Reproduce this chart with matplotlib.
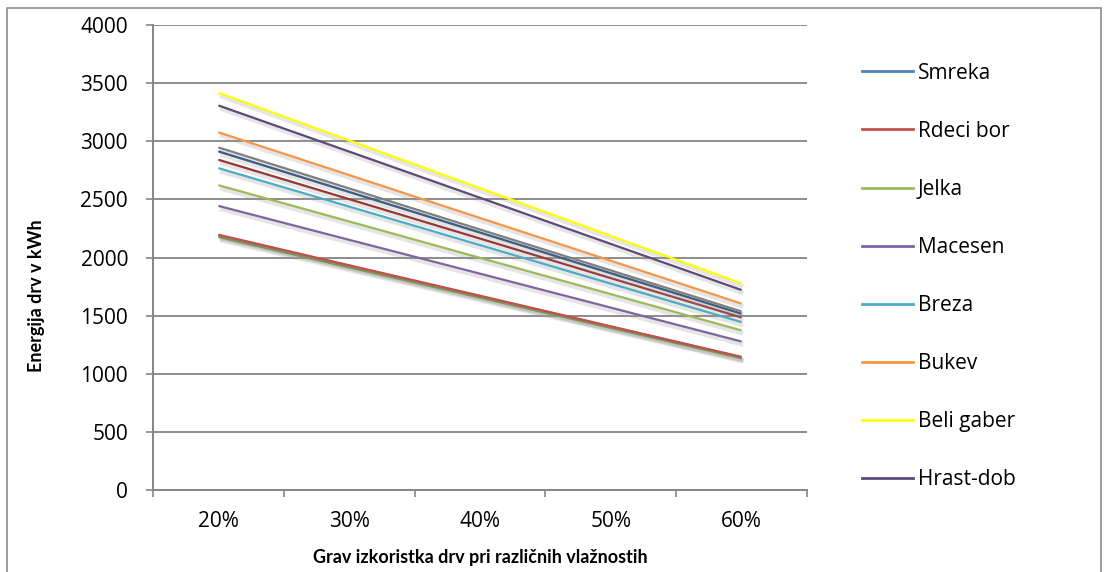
import matplotlib
matplotlib.use("Agg")
import matplotlib.pyplot as plt
import matplotlib.patheffects as pe
from matplotlib.patches import Rectangle

# ---------------------------------------------------------------- data
categories = ["20%", "30%", "40%", "50%", "60%"]

smreka = [2190, 1928, 1666, 1404, 1141]
rdeci_bor = [2196, 1933, 1671, 1408, 1145]
jelka = [2622, 2310, 1997, 1685, 1372]
macesen = [2444, 2152, 1861, 1569, 1277]
breza = [2769, 2438, 2107, 1775, 1444]
bukev = [3077, 2709, 2340, 1972, 1603]
beli_gaber = [3417, 3007, 2596, 2186, 1776]
hrast_dob = [3308, 2911, 2514, 2117, 1720]
# series drawn but cut off from the legend in the original
extra_grey = [2947, 2594, 2241, 1889, 1536]
extra_navy = [2913, 2564, 2215, 1865, 1516]
extra_darkred = [2841, 2502, 2163, 1823, 1484]
extra_olive = [2176, 1915, 1655, 1394, 1133]

series = [
    ("Smreka", smreka, "#4F81BD"),
    ("Rdeci bor", rdeci_bor, "#C0504D"),
    ("Jelka", jelka, "#9BBB59"),
    ("Macesen", macesen, "#8064A2"),
    ("Breza", breza, "#4BACC6"),
    ("Bukev", bukev, "#F79646"),
    ("Beli gaber", beli_gaber, "#FFFF00"),
    ("Hrast-dob", hrast_dob, "#5F497A"),
    (None, extra_grey, "#7F7F7F"),
    (None, extra_navy, "#1F497D"),
    (None, extra_darkred, "#953735"),
    (None, extra_olive, "#77933C"),
]
# draw order so the overlaps look like the original
order = [0, 11, 1, 3, 2, 4, 10, 9, 8, 5, 7, 6]

plt.rcParams["font.family"] = ["Open Sans", "DejaVu Sans"]
FS = 15

fig = plt.figure(figsize=(11.09, 5.72), dpi=100)
ax = fig.add_axes([153 / 1109, 1 - 490 / 572, 654 / 1109, 465 / 572])

x = list(range(len(categories)))
shadow = [pe.SimpleLineShadow(offset=(1.2, -2.2), shadow_color="#9a9a9a",
                              alpha=0.25, linewidth=3.2), pe.Normal()]
for i in order:
    name, vals, col = series[i]
    ax.plot(x, vals, color=col, lw=1.6, path_effects=shadow,
            solid_capstyle="butt")

ax.set_xlim(-0.5, len(categories) - 0.5)
ax.set_ylim(0, 4000)
ax.set_yticks(range(0, 4001, 500))
ax.set_xticks(x)
ax.set_xticklabels(categories)
ax.set_xticks([v - 0.5 for v in range(len(categories) + 1)], minor=True)
ax.tick_params(axis="x", which="major", length=0, pad=15, labelsize=FS)
ax.tick_params(axis="x", which="minor", length=5, color="#868686", width=1.2)
ax.tick_params(axis="y", length=5, color="#868686", width=1.2, pad=13,
               labelsize=FS)
ax.grid(axis="y", color="#8c8c8c", lw=1.4)
ax.set_axisbelow(True)
for sp in ("top", "right"):
    ax.spines[sp].set_visible(False)
for sp in ("left", "bottom"):
    ax.spines[sp].set_color("#868686")
    ax.spines[sp].set_linewidth(1.4)

ax.set_ylabel("Energija drv v kWh", fontsize=13, fontweight="bold",
              family=["Lato", "DejaVu Sans"], va="center")
ax.set_xlabel("Grav izkoristka drv pri različnih vlažnostih", fontsize=13,
              fontweight="bold", family=["Lato", "DejaVu Sans"], va="center")
ax.yaxis.set_label_coords((37 - 153) / 654, (490 - 296) / 465)
ax.xaxis.set_label_coords((480 - 153) / 654, (490 - 558) / 465)

leg_h = [plt.Line2D([], [], color=series[i][2], lw=2.0) for i in range(8)]
leg_l = [series[i][0] for i in range(8)]
ax.legend(leg_h, leg_l, loc="upper left", bbox_to_anchor=(1.0714, 0.937),
          frameon=False, fontsize=FS, labelspacing=1.78, handlelength=2.45,
          handletextpad=0.24, borderaxespad=0)

fig.patches.append(Rectangle((7 / 1109, -0.02), 1094 / 1109, 1 - 8 / 572 + 0.02,
                             transform=fig.transFigure, fill=False,
                             edgecolor="#8c8c8c", lw=1.2))

fig.savefig("out.png", dpi=100)
